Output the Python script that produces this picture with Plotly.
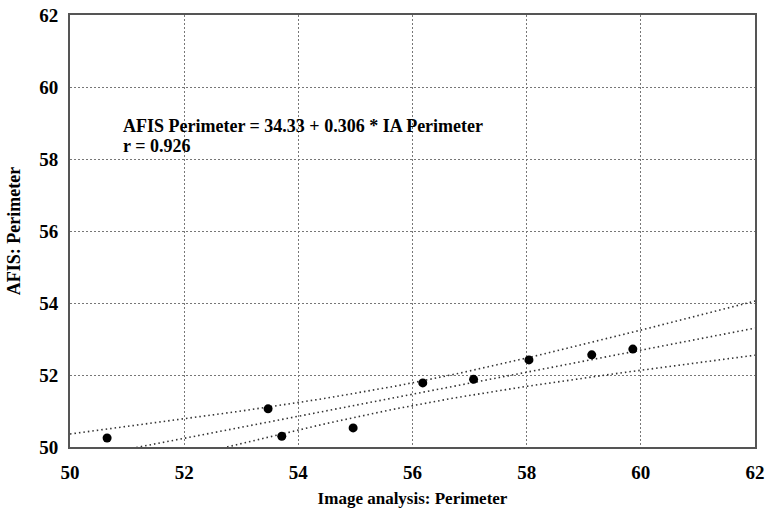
import numpy as np
import plotly.graph_objects as go

# Data
ia_perimeter = [50.65, 53.47, 53.71, 54.96, 56.18, 57.07, 58.04, 59.14, 59.86]
afis_perimeter = [50.25, 51.06, 50.30, 50.53, 51.78, 51.88, 52.42, 52.56, 52.72]
intercept = 34.33
slope = 0.306
r_value = 0.926
tick_vals = [50, 52, 54, 56, 58, 60, 62]

x = np.array(ia_perimeter)
y = np.array(afis_perimeter)
n = len(x)
xs = np.linspace(50, 62, 121)
fit = intercept + slope * xs
resid = y - (intercept + slope * x)
s = np.sqrt(np.sum(resid ** 2) / (n - 2))
sxx = np.sum((x - x.mean()) ** 2)
t_crit = 2.365
half = t_crit * s * np.sqrt(1 / n + (xs - x.mean()) ** 2 / sxx)

line_style = dict(color="#333", width=1.6, dash="1.5px,3px")
fig = go.Figure()
fig.add_trace(go.Scatter(x=xs, y=fit + half, mode="lines", line=line_style, hoverinfo="skip"))
fig.add_trace(go.Scatter(x=xs, y=fit, mode="lines", line=line_style, hoverinfo="skip"))
fig.add_trace(go.Scatter(x=xs, y=fit - half, mode="lines", line=line_style, hoverinfo="skip"))
fig.add_trace(go.Scatter(x=ia_perimeter, y=afis_perimeter, mode="markers",
                         marker=dict(color="black", size=9)))

font_family = "Liberation Serif"
axis_common = dict(
    tickvals=tick_vals, showgrid=True, gridcolor="#777", griddash="2px,2px", gridwidth=1,
    showline=True, linecolor="#555", linewidth=2, mirror=True, zeroline=False,
    ticks="", automargin=False,
    tickfont=dict(family=font_family, size=19, color="black", weight="bold"),
)
fig.update_xaxes(range=[50, 62], ticklabelstandoff=7,
                 title=dict(text="<b>Image analysis: Perimeter</b>",
                            font=dict(family=font_family, size=17, color="black"), standoff=12),
                 **axis_common)
fig.update_yaxes(range=[50, 62], ticklabelstandoff=6,
                 title=dict(text="<b>AFIS: Perimeter</b>",
                            font=dict(family=font_family, size=18, color="black"), standoff=14),
                 **axis_common)

fig.add_annotation(x=0.074, y=0.742, xref="paper", yref="paper", xanchor="left", yanchor="middle",
                   text=f"<b>AFIS Perimeter = {intercept:.2f} + {slope:.3f} * IA Perimeter</b>",
                   showarrow=False, font=dict(family=font_family, size=18, color="black"))
fig.add_annotation(x=0.074, y=0.697, xref="paper", yref="paper", xanchor="left", yanchor="middle",
                   text=f"<b>r = {r_value:.3f}</b>",
                   showarrow=False, font=dict(family=font_family, size=18, color="black"))

fig.update_layout(width=781, height=508, margin=dict(l=70, r=26, t=15, b=61),
                  plot_bgcolor="white", paper_bgcolor="white", showlegend=False)
fig.write_html("out.html")
